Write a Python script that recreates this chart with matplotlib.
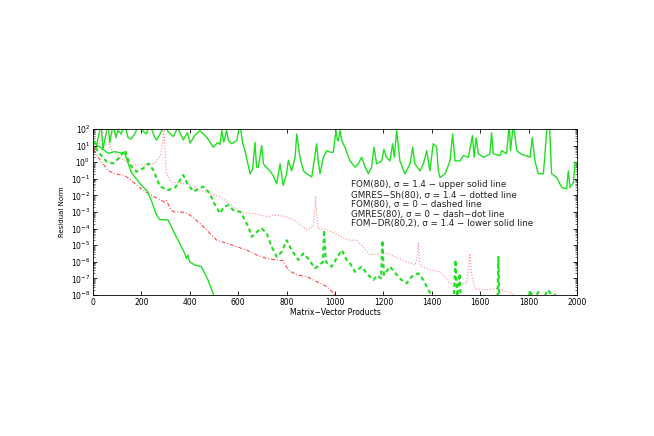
import matplotlib
matplotlib.use('Agg')
import matplotlib.pyplot as plt
import numpy as np
from matplotlib.ticker import LogLocator, NullFormatter, FixedLocator

# FOM(80), sigma = 1.4 - upper solid line
x_fom14 = [0, 15, 34, 41, 62, 70, 83, 95, 103, 117, 130, 145, 158, 175, 190, 205, 220, 235,
           255, 263, 280, 295, 310, 332, 350, 373, 390, 401, 420, 442, 470, 497, 515, 525,
           532, 540, 552, 560, 573, 594, 607, 618, 628, 649, 660, 669, 676, 683, 697, 704,
           711, 731, 745, 759, 773, 786, 800, 807, 821, 835, 842, 855, 870, 883, 904, 924,
           931, 938, 952, 966, 980, 993, 1004, 1010, 1014, 1021, 1028, 1041, 1062, 1083,
           1096, 1110, 1125, 1138, 1151, 1161, 1172, 1193, 1202, 1212, 1227, 1238, 1245,
           1255, 1268, 1289, 1310, 1321, 1330, 1351, 1365, 1379, 1392, 1406, 1420, 1427,
           1434, 1455, 1475, 1486, 1496, 1517, 1530, 1551, 1568, 1575, 1583, 1592, 1613,
           1640, 1647, 1654, 1682, 1689, 1709, 1720, 1725, 1737, 1751, 1771, 1806, 1815,
           1826, 1840, 1861, 1875, 1886, 1895, 1916, 1937, 1957, 1964, 1971, 1985, 1992, 2000]
y_fom14 = [2e1, 1.1e1, 2e2, 6e0, 2e2, 1.5e1, 2e2, 3e1, 8e1, 5e1, 2e2, 3e1, 2.5e1, 6e1, 2e2, 8e1, 5e1, 2e2,
           3e1, 2.2e1, 6e1, 2e2, 7e1, 3.5e1, 1.2e2, 2.2e1, 6e1, 1.4e1, 4e1, 8e1, 3.2e1, 8e0, 1.5e1, 1.2e1,
           8e1, 1.6e1, 8e1, 2e1, 1.3e1, 2e1, 2e2, 1.5e1, 5e0, 2e-1, 4e-1, 1.6e1, 5e-1, 5e-1, 1e1, 8e-1,
           6e-1, 3e-1, 1.5e-1, 5e-2, 8e-1, 4e-2, 2e-1, 1.3e0, 3e-1, 2e0, 5e1, 2e0, 3e-1, 2e-1, 1.3e-1, 1.3e1,
           1e0, 2e-1, 2e0, 5e0, 4e0, 4e0, 8e1, 2e1, 2e1, 8e1, 2e1, 8e0, 1.2e0, 5e-1,
           8e-1, 2e0, 5e-1, 2e-1, 5e-1, 8e0, 8e-1, 1.2e0, 6e0, 2e0, 1.2e0, 1.3e1, 2e0,
           8e1, 1.2e0, 2e-1, 8e-1, 8e0, 8e-1, 3e-1, 8e-1, 5e0, 3e-1, 1.3e1, 8e0, 3e-1,
           1.2e-1, 2e-1, 1.2e0, 5e1, 1.2e0, 1.2e0, 2.5e0, 2e0, 4e1, 2e0, 3e1, 3.2e0, 2e0,
           3e0, 6e1, 3.2e0, 2.5e0, 5e0, 3.2e0, 2e2, 5e0, 2e2, 5e0, 3e0, 2e0, 3e1,
           1.2e0, 2e-1, 2e-1, 8e1, 2e2, 2e-1, 1.2e-1, 3e-2, 2.5e-2, 3e-1, 3e-2, 6e-2, 1e0, 8e-1]

# GMRES-Sh(80), sigma = 1.4 - dotted line
x_gsh = [0, 20, 40, 52, 60, 80, 110, 140, 158, 227, 260, 280, 289, 292, 296, 303, 323, 393,
         442, 525, 580, 621, 662, 718, 759, 800, 842, 883, 910, 916, 920, 924, 930, 966,
         1000, 1040, 1062, 1090, 1145, 1180, 1213, 1250, 1296, 1331, 1340, 1344, 1350,
         1358, 1393, 1434, 1475, 1520, 1544, 1552, 1558, 1564, 1578, 1606, 1640, 1668,
         1709, 1750, 1780]
y_gsh = [2e1, 1e1, 5e1, 2e2, 2e1, 5e0, 2e0, 1e0, 7e-1, 7e-1, 1e0, 3e0, 2e1, 2e2, 2e1, 2e-1, 6.3e-2, 5e-2,
         2.1e-2, 8.3e-3, 2.1e-3, 8.3e-4, 8.3e-4, 5.2e-4, 6.6e-4, 5e-4, 2.6e-4, 8.3e-5, 1.3e-4, 1e-3, 8.3e-3, 1e-3, 1e-4, 8.3e-5,
         5.2e-5, 2.5e-5, 2e-5, 2e-5, 2.6e-6, 3e-6, 3.2e-6, 2e-6, 1e-6, 6.5e-7, 2e-6, 1.3e-5, 1e-6,
         5.1e-7, 3.2e-7, 2.5e-7, 5e-8, 5e-8, 5e-8, 5e-7, 3.2e-6, 2e-7, 2.5e-8, 2e-8, 2.2e-8, 2.5e-8,
         1.6e-8, 9e-9, 5e-9]

# FOM(80), sigma = 0 - dashed line
x_fom0 = [0, 8, 30, 57, 84, 112, 132, 153, 180, 208, 229, 249, 277, 311, 340, 373, 390, 415,
          456, 483, 497, 525, 540, 559, 580, 610, 642, 656, 675, 697, 718, 738, 759, 780,
          800, 821, 848, 869, 890, 917, 935, 950, 955, 962, 986, 1005, 1028, 1048, 1062,
          1083, 1110, 1131, 1158, 1175, 1190, 1196, 1202, 1227, 1250, 1275, 1296, 1317,
          1344, 1365, 1393, 1410, 1430, 1445, 1470, 1490, 1498, 1505, 1515, 1522, 1670,
          1675, 1680, 1790, 1806, 1820, 1840, 1860, 1880, 1900, 1916, 1930, 2000]
y_fom0 = [2e1, 8.5e0, 3e0, 1.07e0, 8.5e-1, 2.1e0, 5.4e0, 6.8e-1, 2.7e-1, 4.3e-1, 8.5e-1, 3.4e-1, 3.4e-2, 2.1e-2, 3e-2, 1.7e-1, 5e-2, 1.7e-2,
          3.4e-2, 1.3e-2, 4.2e-3, 8.3e-4, 2e-3, 2.6e-3, 1.3e-3, 1e-3, 1.3e-4, 3.2e-5, 6e-5, 1.05e-4, 5.2e-5, 8.1e-6, 2e-6, 4e-6,
          2e-5, 5.1e-6, 1.3e-6, 3.2e-6, 1.5e-6, 4.1e-7, 6e-7, 1e-6, 8.3e-5, 1e-6, 5.1e-7, 1.5e-6, 5.1e-6, 1.3e-6, 8e-7,
          2.5e-7, 5.1e-7, 2e-7, 8e-8, 1.5e-7, 1e-7, 2e-5, 1.6e-7, 5.1e-7, 2e-7, 8e-8, 5e-8, 1.3e-7,
          2e-7, 8e-8, 1.3e-8, 4e-9, 9e-9, 3e-9, 1e-9, 3e-9, 1.3e-6, 5e-9, 2e-7, 1e-9, 1e-9,
          2e-6, 1e-9, 1e-9, 2e-8, 5e-9, 1.5e-8, 6e-9, 2e-8, 8e-9, 1.2e-8, 1e-9, 1e-10]

# GMRES(80), sigma = 0 - dash-dot line
x_gm0 = [0, 7, 21, 62, 90, 131, 158, 207, 255, 296, 303, 323, 337, 365, 393, 442, 483, 511,
         552, 594, 635, 676, 718, 759, 785, 807, 842, 883, 924, 966, 993, 1015]
y_gm0 = [2e1, 5e0, 2e0, 3.2e-1, 2e-1, 1.6e-1, 8e-2, 2e-2, 8e-3, 4e-3, 5e-3, 1.3e-3, 1e-3, 1e-3, 8e-4, 2.1e-4, 5.2e-5, 2e-5,
         1.3e-5, 8.1e-6, 5.1e-6, 2.6e-6, 1.6e-6, 1.3e-6, 1.2e-6, 3.2e-7, 1.6e-7, 1.3e-7, 6.3e-8, 3.2e-8, 1.3e-8, 5e-9]

# FOM-DR(80,2), sigma = 1.4 - lower solid line
x_fomdr = [0, 15, 41, 63, 80, 91, 132, 158, 200, 222, 241, 260, 275, 310, 344, 379, 386, 392,
           399, 420, 448, 475, 500, 510]
y_fomdr = [2e1, 1.1e1, 6e0, 3.4e0, 4e0, 4.3e0, 3.2e0, 2.5e-1, 4e-2, 2e-2, 5e-3, 8e-4, 3.5e-4, 3.3e-4, 3.2e-5, 3.2e-6, 1.6e-6, 2.5e-6,
           1e-6, 6.5e-7, 5.1e-7, 8e-8, 9e-9, 3e-9]

legend_lines = ['FOM(80), \u03c3 = 1.4 \u2212 upper solid line',
                'GMRES\u2212Sh(80), \u03c3 = 1.4 \u2212 dotted line',
                'FOM(80), \u03c3 = 0 \u2212 dashed line',
                'GMRES(80), \u03c3 = 0 \u2212 dash\u2212dot line',
                'FOM\u2212DR(80,2), \u03c3 = 1.4 \u2212 lower solid line']
legend_y = [10**-1.37, 10**-1.98, 10**-2.54, 10**-3.14, 10**-3.72]

fig = plt.figure(figsize=(6.54, 4.36), dpi=100)
ax = fig.add_axes([0.1422, 0.3234, 0.7401, 0.3807])

green = '#1fe01f'
red = '#ff3030'
ax.semilogy(x_fom14, y_fom14, color=green, lw=1.0)
ax.semilogy(x_gsh, y_gsh, color='#ff8a8a', lw=0.8, ls=':')
ax.semilogy(x_fom0, y_fom0, color=green, lw=1.5, ls=(0, (2, 1.5)))
ax.semilogy(x_gm0, y_gm0, color=red, lw=0.7, ls=(0, (4, 2, 1, 2)))
ax.semilogy(x_fomdr, y_fomdr, color=green, lw=1.0)

for txt, yy in zip(legend_lines, legend_y):
    ax.text(1065, yy, txt, fontsize=6.3, va='center', ha='left', color='#222222')

ax.set_xlim(0, 2000)
ax.set_ylim(1e-8, 1e2)
ax.set_xticks(range(0, 2001, 200))
ax.yaxis.set_major_locator(FixedLocator([10.0**k for k in range(-8, 3)]))
ax.yaxis.set_minor_locator(LogLocator(base=10, subs=np.arange(2, 10), numticks=20))
ax.yaxis.set_minor_formatter(NullFormatter())
ax.tick_params(which='both', direction='in', top=True, right=True, labelsize=5.5, pad=2)
ax.tick_params(which='major', length=3, width=0.6)
ax.tick_params(which='minor', length=1.5, width=0.4)
for s in ax.spines.values():
    s.set_linewidth(0.6)
ax.set_xlabel('Matrix\u2212Vector Products', fontsize=5.5, labelpad=1)
ax.set_ylabel('Residual Norm', fontsize=5, labelpad=4)

fig.savefig('out.png', dpi=100)
